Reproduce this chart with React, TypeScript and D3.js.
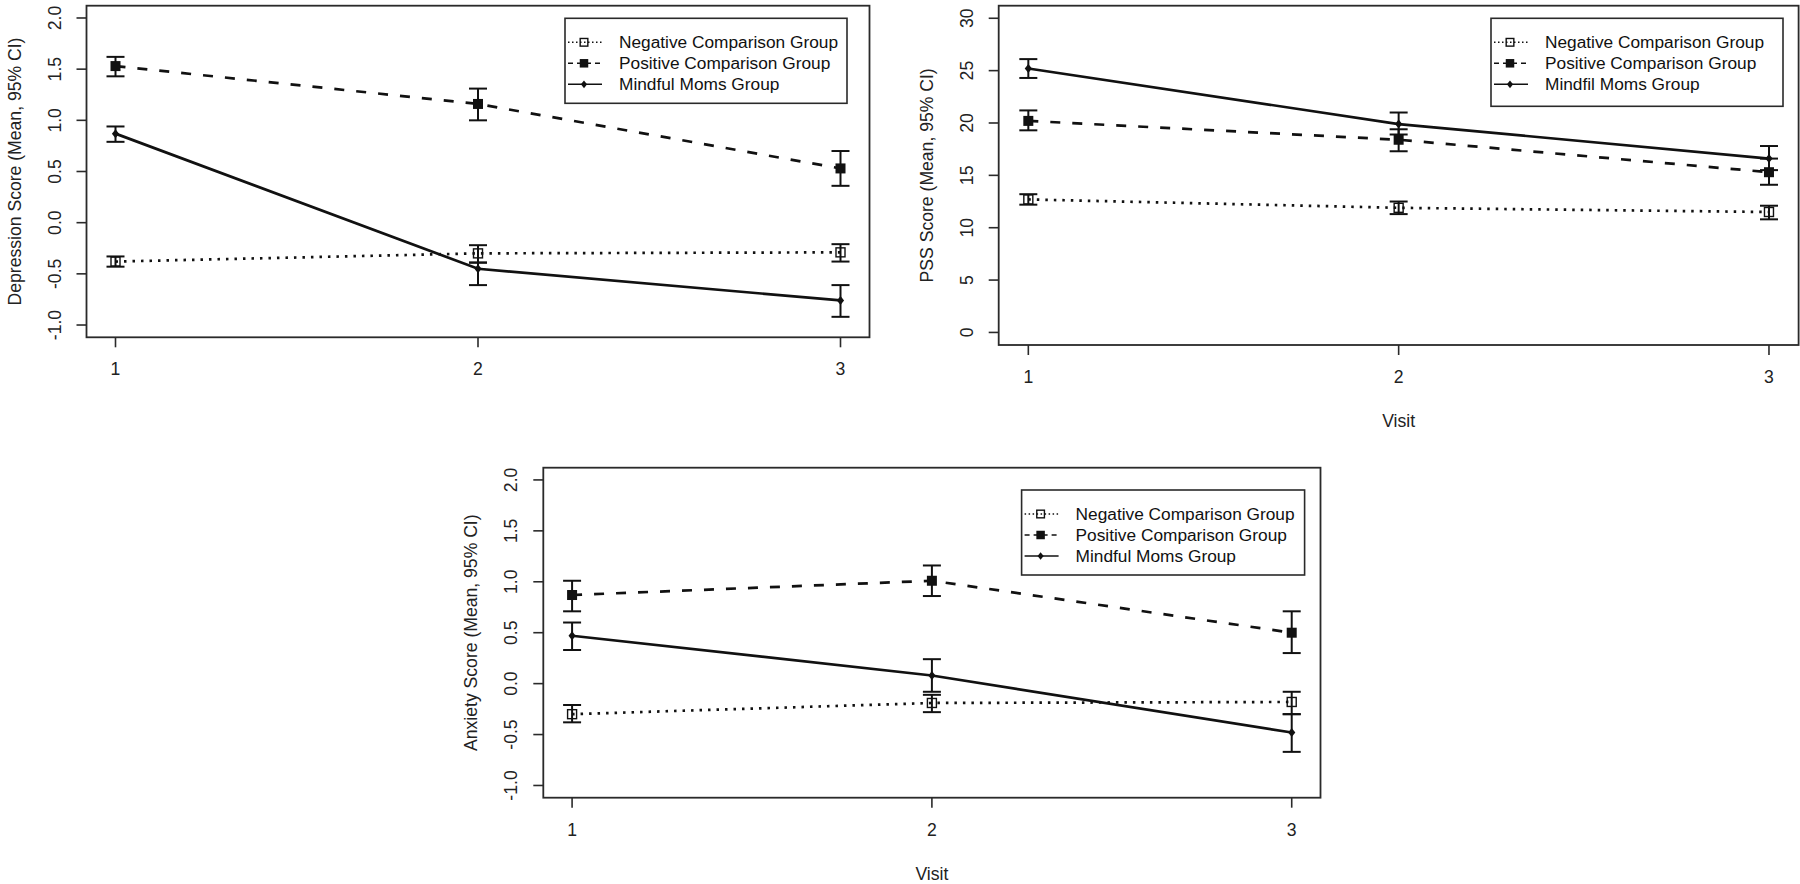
import React from "react";
import * as d3 from "d3";

// ---------- data ----------
const visits = [1, 2, 3];
const groupNames = ["Negative Comparison Group", "Positive Comparison Group", "Mindful Moms Group"];
const pssGroupNames = ["Negative Comparison Group", "Positive Comparison Group", "Mindfil Moms Group"];

const depTicks = [-1, -0.5, 0, 0.5, 1, 1.5, 2];
const pssTicks = [0, 5, 10, 15, 20, 25, 30];
const anxTicks = [-1, -0.5, 0, 0.5, 1, 1.5, 2];

// Depression
const depNegMean = [-0.38, -0.3, -0.29];
const depNegLo = [-0.43, -0.39, -0.38];
const depNegHi = [-0.33, -0.22, -0.21];
const depPosMean = [1.53, 1.16, 0.53];
const depPosLo = [1.43, 1.0, 0.36];
const depPosHi = [1.62, 1.31, 0.7];
const depMinMean = [0.87, -0.45, -0.76];
const depMinLo = [0.79, -0.61, -0.92];
const depMinHi = [0.94, -0.39, -0.61];

// PSS
const pssNegMean = [12.7, 11.9, 11.5];
const pssNegLo = [12.2, 11.3, 10.8];
const pssNegHi = [13.2, 12.5, 12.1];
const pssPosMean = [20.2, 18.4, 15.3];
const pssPosLo = [19.3, 17.3, 14.1];
const pssPosHi = [21.2, 19.4, 16.6];
const pssMinMean = [25.2, 19.9, 16.6];
const pssMinLo = [24.3, 18.9, 15.5];
const pssMinHi = [26.1, 21.0, 17.8];

// Anxiety
const anxNegMean = [-0.3, -0.19, -0.18];
const anxNegLo = [-0.38, -0.28, -0.3];
const anxNegHi = [-0.21, -0.11, -0.08];
const anxPosMean = [0.87, 1.01, 0.5];
const anxPosLo = [0.71, 0.86, 0.3];
const anxPosHi = [1.01, 1.16, 0.71];
const anxMinMean = [0.47, 0.08, -0.48];
const anxMinLo = [0.33, -0.08, -0.67];
const anxMinHi = [0.6, 0.24, -0.3];

// ---------- styling ----------
const FONT = "'Liberation Sans', Arial, Helvetica, sans-serif";
const FS = 17.6;
const LFS = 17.3;
const INK = "#111";
const BOX = "#2a2a2a";

type Kind = "neg" | "pos" | "min";
const kinds: Kind[] = ["neg", "pos", "min"];
const dashFor: Record<Kind, string | undefined> = { neg: "2.5 6", pos: "10 12", min: undefined };
const legendDashFor: Record<Kind, string | undefined> = { neg: "1.5 2.5", pos: "5 4", min: undefined };

function Marker({ kind, x, y, s = 1 }: { kind: Kind; x: number; y: number; s?: number }) {
  if (kind === "neg") {
    const h = 4.5 * s;
    return <rect x={x - h} y={y - h} width={2 * h} height={2 * h} fill="none" stroke={INK} strokeWidth={1.4} />;
  }
  if (kind === "pos") {
    const h = 5 * s;
    return <rect x={x - h} y={y - h} width={2 * h} height={2 * h} fill={INK} />;
  }
  const h = 4.5 * s;
  return <path d={`M${x},${y - h}L${x + h * 0.8},${y}L${x},${y + h}L${x - h * 0.8},${y}Z`} fill={INK} />;
}

type Series = { kind: Kind; mean: number[]; lo: number[]; hi: number[] };

type PanelCfg = {
  left: number; right: number; top: number; bottom: number;
  yDomain: [number, number];
  ticks: number[];
  fmt: (v: number) => string;
  ylabel: string;
  xlabel: string | null;
  names: string[];
  series: Series[];
  legend: { x: number; y: number; w: number; h: number };
};

function Panel({ p }: { p: PanelCfg }) {
  const x = d3.scaleLinear().domain([0.92, 3.08]).range([p.left, p.right]);
  const y = d3.scaleLinear().domain(p.yDomain).range([p.bottom, p.top]);
  const line = d3.line<number>().x((_, i) => x(visits[i])).y((d) => y(d));
  const cy = (p.top + p.bottom) / 2;
  const L = p.legend;
  return (
    <g>
      {p.series.map((s) => (
        <path key={"l" + s.kind} d={line(s.mean) || ""} fill="none" stroke={INK} strokeWidth={2.7}
          strokeDasharray={dashFor[s.kind]} />
      ))}
      {p.series.map((s) =>
        visits.map((v, i) => (
          <g key={"e" + s.kind + i} stroke={INK} strokeWidth={2}>
            <line x1={x(v)} x2={x(v)} y1={y(s.lo[i])} y2={y(s.hi[i])} />
            <line x1={x(v) - 9} x2={x(v) + 9} y1={y(s.lo[i])} y2={y(s.lo[i])} />
            <line x1={x(v) - 9} x2={x(v) + 9} y1={y(s.hi[i])} y2={y(s.hi[i])} />
          </g>
        ))
      )}
      {p.series.map((s) =>
        visits.map((v, i) => <Marker key={"m" + s.kind + i} kind={s.kind} x={x(v)} y={y(s.mean[i])} />)
      )}
      <rect x={p.left} y={p.top} width={p.right - p.left} height={p.bottom - p.top} fill="none" stroke={BOX} strokeWidth={1.8} />
      {p.ticks.map((t) => (
        <g key={"yt" + t}>
          <line x1={p.left - 10} x2={p.left} y1={y(t)} y2={y(t)} stroke={BOX} strokeWidth={1.6} />
          <text transform={`translate(${p.left - 32},${y(t)}) rotate(-90)`} textAnchor="middle"
            dominantBaseline="central" fontFamily={FONT} fontSize={FS} fill="#222">{p.fmt(t)}</text>
        </g>
      ))}
      <text transform={`translate(${p.left - 72},${cy}) rotate(-90)`} textAnchor="middle"
        dominantBaseline="central" fontFamily={FONT} fontSize={FS} fill="#222">{p.ylabel}</text>
      {visits.map((v) => (
        <g key={"xt" + v}>
          <line x1={x(v)} x2={x(v)} y1={p.bottom} y2={p.bottom + 10} stroke={BOX} strokeWidth={1.6} />
          <text x={x(v)} y={p.bottom + 32} textAnchor="middle" dominantBaseline="central"
            fontFamily={FONT} fontSize={FS} fill="#222">{v}</text>
        </g>
      ))}
      {p.xlabel && (
        <text x={(p.left + p.right) / 2} y={p.bottom + 76} textAnchor="middle" dominantBaseline="central"
          fontFamily={FONT} fontSize={FS} fill="#222">{p.xlabel}</text>
      )}
      <rect x={L.x} y={L.y} width={L.w} height={L.h} fill="white" stroke={BOX} strokeWidth={1.6} />
      {kinds.map((k, i) => {
        const ry = L.y + 24 + i * 21;
        return (
          <g key={"lg" + k}>
            <line x1={L.x + 3} x2={L.x + 37} y1={ry} y2={ry} stroke={INK} strokeWidth={1.4}
              strokeDasharray={legendDashFor[k]} />
            <Marker kind={k} x={L.x + 19} y={ry} s={0.85} />
            <text x={L.x + 54} y={ry} dominantBaseline="central" fontFamily={FONT} fontSize={LFS} fill="#111">
              {p.names[i]}
            </text>
          </g>
        );
      })}
    </g>
  );
}

const fmt1 = (v: number) => v.toFixed(1);
const fmt0 = (v: number) => String(v);

const panels: PanelCfg[] = [
  {
    left: 86.5, right: 869.5, top: 5.7, bottom: 337.3, yDomain: [-1.12, 2.12], ticks: depTicks, fmt: fmt1,
    ylabel: "Depression Score (Mean, 95% CI)", xlabel: null, names: groupNames,
    series: [
      { kind: "neg", mean: depNegMean, lo: depNegLo, hi: depNegHi },
      { kind: "pos", mean: depPosMean, lo: depPosLo, hi: depPosHi },
      { kind: "min", mean: depMinMean, lo: depMinLo, hi: depMinHi },
    ],
    legend: { x: 565, y: 18.3, w: 282, h: 85 },
  },
  {
    left: 998.7, right: 1798.6, top: 5.7, bottom: 345, yDomain: [-1.2, 31.2], ticks: pssTicks, fmt: fmt0,
    ylabel: "PSS Score (Mean, 95% CI)", xlabel: "Visit", names: pssGroupNames,
    series: [
      { kind: "neg", mean: pssNegMean, lo: pssNegLo, hi: pssNegHi },
      { kind: "pos", mean: pssPosMean, lo: pssPosLo, hi: pssPosHi },
      { kind: "min", mean: pssMinMean, lo: pssMinLo, hi: pssMinHi },
    ],
    legend: { x: 1491, y: 18.3, w: 292, h: 88 },
  },
  {
    left: 543.3, right: 1320.5, top: 467.7, bottom: 797.7, yDomain: [-1.12, 2.12], ticks: anxTicks, fmt: fmt1,
    ylabel: "Anxiety Score (Mean, 95% CI)", xlabel: "Visit", names: groupNames,
    series: [
      { kind: "neg", mean: anxNegMean, lo: anxNegLo, hi: anxNegHi },
      { kind: "pos", mean: anxPosMean, lo: anxPosLo, hi: anxPosHi },
      { kind: "min", mean: anxMinMean, lo: anxMinLo, hi: anxMinHi },
    ],
    legend: { x: 1021.6, y: 490, w: 283, h: 85 },
  },
];

export default function App() {
  React.useEffect(() => {
    document.body.style.margin = "0";
  }, []);
  return (
    <svg width={1800} height={884} viewBox="0 0 1800 884"
      style={{ position: "absolute", left: 0, top: 0, background: "white", display: "block" }}>
      <rect x={0} y={0} width={1800} height={884} fill="white" />
      {panels.map((p, i) => <Panel key={i} p={p} />)}
    </svg>
  );
}
